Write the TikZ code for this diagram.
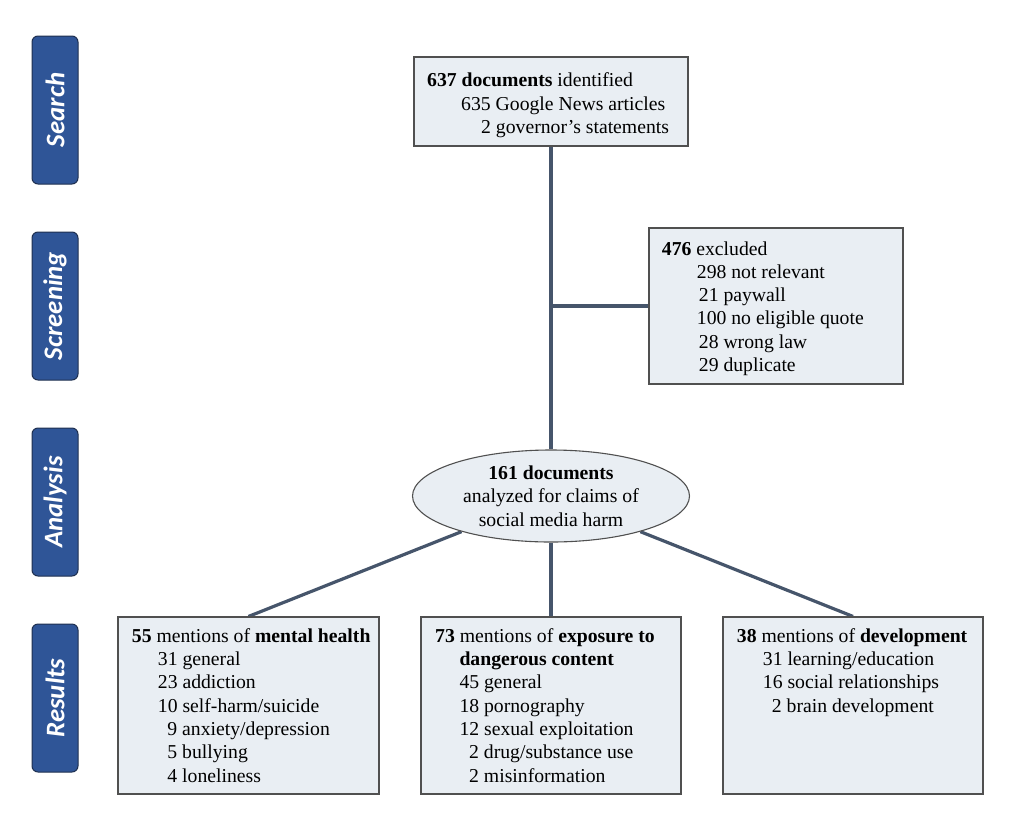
\documentclass[tikz,border=0pt]{standalone}
\usepackage{fontspec}
\setmainfont{Liberation Serif}
\newfontfamily\sidefont{Carlito}
\usetikzlibrary{shapes.geometric}
\pgfdeclarelayer{bg}
\pgfsetlayers{bg,main}
\definecolor{sideblue}{HTML}{2F5597}
\definecolor{sideedge}{HTML}{1F3050}
\definecolor{boxfill}{HTML}{E9EEF3}
\definecolor{boxedge}{HTML}{505050}
\definecolor{linkcol}{HTML}{46556B}
\begin{document}
\begin{tikzpicture}[x=1pt,y=-1pt,
  side/.style={draw=sideedge, line width=1pt, fill=sideblue, rounded corners=6pt,
    minimum width=148pt, minimum height=46pt, rotate=90, inner sep=0pt,
    text=white, font=\sidefont\bfseries\itshape\fontsize{26.8}{28}\selectfont},
  box/.style={draw=boxedge, line width=1.1pt, fill=boxfill, inner sep=0pt},
  txt/.style={inner sep=0pt, anchor=base west, font=\fontsize{19.7}{23.3}\selectfont},
  link/.style={draw=linkcol, line width=3.2pt}]
\useasboundingbox (0,0) rectangle (1024,827);

% side labels
\node[side] (s1) at (55,110) {Search};
\node[side] (s2) at (55,306) {Screening};
\node[side] (s3) at (55,502) {Analysis};
\node[side] (s4) at (55,698) {Results};

% boxes
\node[box, minimum width=274pt, minimum height=89pt] (top) at (551,101.5) {};
\node[box, minimum width=254pt, minimum height=156pt] (excl) at (776,306) {};
\node[box, ellipse, minimum width=277pt, minimum height=92pt,
      align=center, font=\fontsize{19.7}{23.3}\selectfont] (ell) at (551,496)
  {\textbf{161 documents}\\analyzed for claims of\\social media harm};
\node[box, minimum width=261pt, minimum height=177pt] (left) at (248.5,705.5) {};
\node[box, minimum width=260pt, minimum height=177pt] (mid) at (551,705.5) {};
\node[box, minimum width=260pt, minimum height=177pt] (right) at (853,705.5) {};

% texts
\node[txt] (ttop) at (427,86.7) {\begin{tabular}[t]{@{}l@{}}
\textbf{637 documents} identified\\
\hspace*{34pt}635 Google News articles\\
\hspace*{54pt}2 governor’s statements
\end{tabular}};
\node[txt] (texcl) at (661.7,255) {\begin{tabular}[t]{@{}l@{}}
\textbf{476} excluded\\
\hspace*{35pt}298 not relevant\\
\hspace*{37pt}21 paywall\\
\hspace*{35pt}100 no eligible quote\\
\hspace*{37pt}28 wrong law\\
\hspace*{37pt}29 duplicate
\end{tabular}};
\node[txt] (tleft) at (131.7,642.3) {\begin{tabular}[t]{@{}l@{}}
\textbf{55} mentions of \textbf{mental health}\\
\hspace*{26pt}31 general\\
\hspace*{26pt}23 addiction\\
\hspace*{26pt}10 self-harm/suicide\\
\hspace*{35.5pt}9 anxiety/depression\\
\hspace*{35.5pt}5 bullying\\
\hspace*{35.5pt}4 loneliness
\end{tabular}};
\node[txt] (tmid) at (435,642.3) {\begin{tabular}[t]{@{}l@{}}
\textbf{73} mentions of \textbf{exposure to}\\
\hspace*{24.3pt}\textbf{dangerous content}\\
\hspace*{24.3pt}45 general\\
\hspace*{24.3pt}18 pornography\\
\hspace*{24.3pt}12 sexual exploitation\\
\hspace*{34pt}2 drug/substance use\\
\hspace*{34pt}2 misinformation
\end{tabular}};
\node[txt] (tright) at (736.7,642.3) {\begin{tabular}[t]{@{}l@{}}
\textbf{38} mentions of \textbf{development}\\
\hspace*{26pt}31 learning/education\\
\hspace*{26pt}16 social relationships\\
\hspace*{35pt}2 brain development
\end{tabular}};

% connectors
\coordinate (j) at (top.south |- excl.west);
\begin{pgfonlayer}{bg}
\draw[link] (top.south) -- (ell.north);
\draw[link] (j) -- (excl.west);
\draw[link] (ell.south) -- (mid.north);
\draw[link] (ell) -- (left.north);
\draw[link] (ell) -- (right.north);
\end{pgfonlayer}
\end{tikzpicture}
\end{document}
